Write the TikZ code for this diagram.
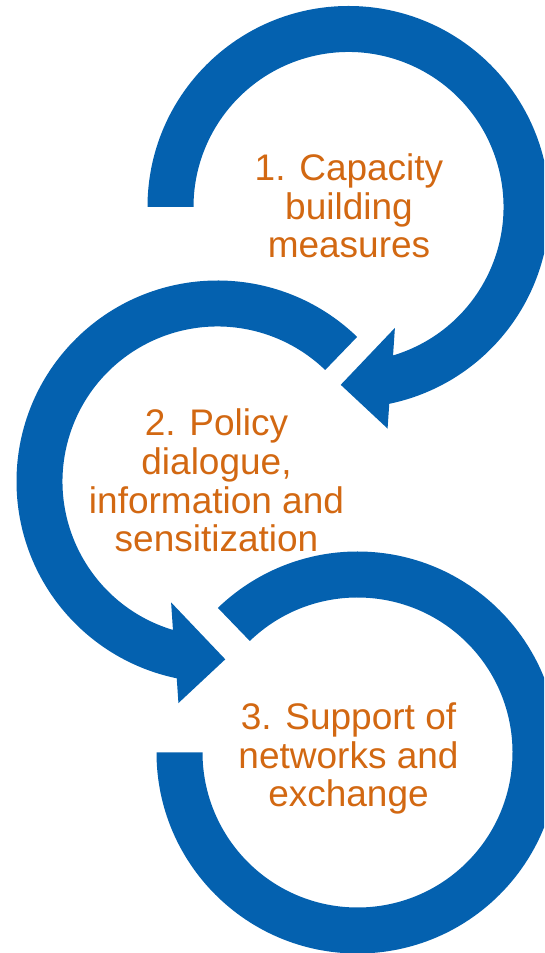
\documentclass[tikz,border=0pt]{standalone}
\usepackage{fontspec}
\setmainfont{Liberation Sans}
\definecolor{ringblue}{RGB}{4,97,175}
\definecolor{txtorange}{RGB}{210,104,18}
\begin{document}
\begin{tikzpicture}[x=1pt,y=1pt,
  ring/.style={fill=ringblue,draw=none},
  lbl/.style={text=txtorange,align=center,inner sep=0pt,
    font=\fontsize{37}{38.6}\selectfont}]
\clip (0,0) rectangle (544,953);
% centres
\coordinate (c1) at (348.5,746);
\coordinate (c2) at (217.5,471.5);
\coordinate (c3) at (357.5,200.5);
% ring 1 with arrowhead (clockwise)
\fill[ring] ([shift={(180:201pt)}]c1) arc[start angle=180,end angle=-78.3,radius=201pt]
  -- ([shift={(-80:225pt)}]c1) -- ([shift={(-92.5:178pt)}]c1)
  -- ([shift={(-69:129.5pt)}]c1) -- ([shift={(-73.3:155pt)}]c1)
  arc[start angle=-73.3,end angle=180,radius=155pt] -- cycle;
% ring 2 with arrowhead (counter-clockwise)
\fill[ring] ([shift={(46:201pt)}]c2) arc[start angle=46,end angle=258.3,radius=201pt]
  -- ([shift={(260:225pt)}]c2) -- ([shift={(272.5:178pt)}]c2)
  -- ([shift={(249:129.5pt)}]c2) -- ([shift={(253.3:155pt)}]c2)
  arc[start angle=253.3,end angle=46,radius=155pt] -- cycle;
% ring 3 without arrowhead
\fill[ring] ([shift={(180:201pt)}]c3) arc[start angle=180,end angle=494,radius=201pt]
  -- ([shift={(494:155pt)}]c3)
  arc[start angle=494,end angle=180,radius=155pt] -- cycle;
% labels
\node[lbl] (t1) at (349,747) {1. Capacity\\building\\measures};
\node[lbl] (t2) at (216.5,472.5) {2. Policy\\dialogue,\\information and\\sensitization};
\node[lbl] (t3) at (348.5,194.4) {3. Support of\\networks and\\exchange};
\end{tikzpicture}
\end{document}
